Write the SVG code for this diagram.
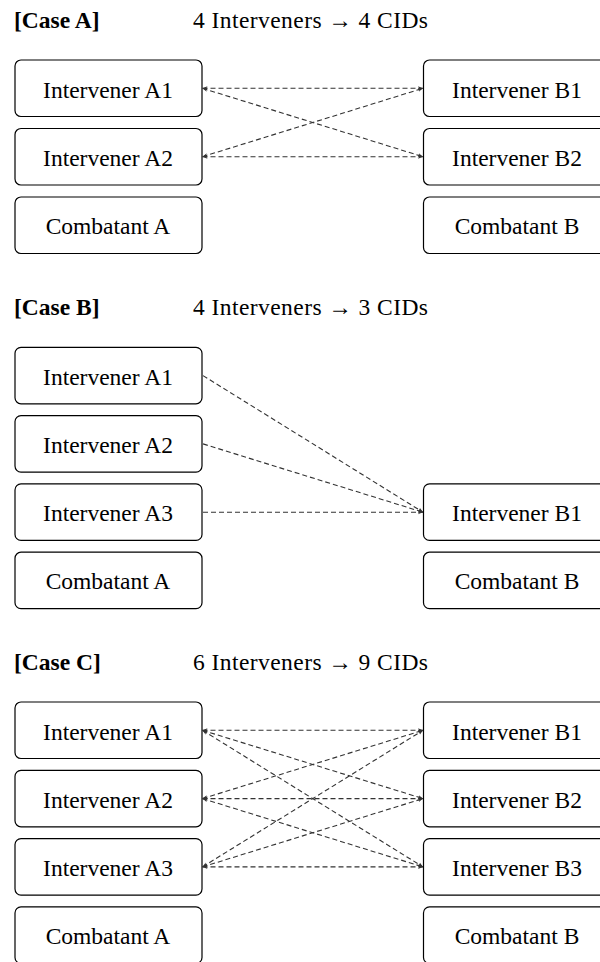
<svg xmlns="http://www.w3.org/2000/svg" width="600" height="962" viewBox="0 0 600 962" font-family="'Liberation Serif', 'DejaVu Serif', serif">
<defs>
<style>
text{font-family:'Liberation Serif','DejaVu Serif',serif}
.box{fill:#fff;stroke:#000;stroke-width:1.2}
.lbl{font-size:23.5px;fill:#000;text-anchor:middle}
.ttl{font-size:23.5px;fill:#000}
.b{font-weight:bold}
.con{fill:none;stroke:#333;stroke-width:1.1;stroke-dasharray:5,3}
</style>
<marker id="ah" viewBox="0 0 6 6" refX="6" refY="3" markerWidth="5" markerHeight="5" markerUnits="userSpaceOnUse" orient="auto-start-reverse">
<path d="M0,0.5 L6,3 L0,5.5 L1.5,3 Z" fill="#333"/>
</marker>
</defs>
<rect width="600" height="962" fill="#fff"/>

<!-- Case A -->
<g id="titleA">
<text class="ttl b" x="14" y="28">[Case A]</text>
<text class="ttl" x="193" y="28" textLength="235" lengthAdjust="spacing">4 Interveners → 4 CIDs</text>
</g>
<g id="A_A1"><rect class="box" x="15" y="60" width="187" height="56.5" rx="6"/><text class="lbl" x="108" y="97.5">Intervener A1</text></g>
<g id="A_A2"><rect class="box" x="15" y="128.5" width="187" height="56.5" rx="6"/><text class="lbl" x="108" y="166">Intervener A2</text></g>
<g id="A_CA"><rect class="box" x="15" y="197" width="187" height="56.5" rx="6"/><text class="lbl" x="108" y="234">Combatant A</text></g>
<g id="A_B1"><rect class="box" x="423.5" y="60" width="187" height="56.5" rx="6"/><text class="lbl" x="517" y="97.5">Intervener B1</text></g>
<g id="A_B2"><rect class="box" x="423.5" y="128.5" width="187" height="56.5" rx="6"/><text class="lbl" x="517" y="166">Intervener B2</text></g>
<g id="A_CB"><rect class="box" x="423.5" y="197" width="187" height="56.5" rx="6"/><text class="lbl" x="517" y="234">Combatant B</text></g>
<g id="A_connectors">
<path class="con" d="M202.5,88.3 L423,88.3" marker-start="url(#ah)" marker-end="url(#ah)"/>
<path class="con" d="M202.5,88.3 L423,156.7" marker-start="url(#ah)" marker-end="url(#ah)"/>
<path class="con" d="M202.5,156.7 L423,88.3" marker-start="url(#ah)" marker-end="url(#ah)"/>
<path class="con" d="M202.5,156.7 L423,156.7" marker-start="url(#ah)" marker-end="url(#ah)"/>
</g>

<!-- Case B -->
<g id="titleB">
<text class="ttl b" x="14" y="315">[Case B]</text>
<text class="ttl" x="193" y="315" textLength="235" lengthAdjust="spacing">4 Interveners → 3 CIDs</text>
</g>
<g id="B_A1"><rect class="box" x="15" y="347.3" width="187" height="56.5" rx="6"/><text class="lbl" x="108" y="384.8">Intervener A1</text></g>
<g id="B_A2"><rect class="box" x="15" y="415.6" width="187" height="56.5" rx="6"/><text class="lbl" x="108" y="453.1">Intervener A2</text></g>
<g id="B_A3"><rect class="box" x="15" y="483.9" width="187" height="56.5" rx="6"/><text class="lbl" x="108" y="521.4">Intervener A3</text></g>
<g id="B_CA"><rect class="box" x="15" y="552.2" width="187" height="56.5" rx="6"/><text class="lbl" x="108" y="589.2">Combatant A</text></g>
<g id="B_B1"><rect class="box" x="423.5" y="483.9" width="187" height="56.5" rx="6"/><text class="lbl" x="517" y="521.4">Intervener B1</text></g>
<g id="B_CB"><rect class="box" x="423.5" y="552.2" width="187" height="56.5" rx="6"/><text class="lbl" x="517" y="589.2">Combatant B</text></g>
<g id="B_connectors">
<path class="con" d="M203,375.6 L423,512.2" marker-end="url(#ah)"/>
<path class="con" d="M203,443.9 L423,512.2" marker-end="url(#ah)"/>
<path class="con" d="M203,512.2 L423,512.2" marker-end="url(#ah)"/>
</g>

<!-- Case C -->
<g id="titleC">
<text class="ttl b" x="14" y="669.5">[Case C]</text>
<text class="ttl" x="193" y="669.5" textLength="235" lengthAdjust="spacing">6 Interveners → 9 CIDs</text>
</g>
<g id="C_A1"><rect class="box" x="15" y="702" width="187" height="56.5" rx="6"/><text class="lbl" x="108" y="739.5">Intervener A1</text></g>
<g id="C_A2"><rect class="box" x="15" y="770.3" width="187" height="56.5" rx="6"/><text class="lbl" x="108" y="807.8">Intervener A2</text></g>
<g id="C_A3"><rect class="box" x="15" y="838.6" width="187" height="56.5" rx="6"/><text class="lbl" x="108" y="876.1">Intervener A3</text></g>
<g id="C_CA"><rect class="box" x="15" y="906.9" width="187" height="56.5" rx="6"/><text class="lbl" x="108" y="943.9">Combatant A</text></g>
<g id="C_B1"><rect class="box" x="423.5" y="702" width="187" height="56.5" rx="6"/><text class="lbl" x="517" y="739.5">Intervener B1</text></g>
<g id="C_B2"><rect class="box" x="423.5" y="770.3" width="187" height="56.5" rx="6"/><text class="lbl" x="517" y="807.8">Intervener B2</text></g>
<g id="C_B3"><rect class="box" x="423.5" y="838.6" width="187" height="56.5" rx="6"/><text class="lbl" x="517" y="876.1">Intervener B3</text></g>
<g id="C_CB"><rect class="box" x="423.5" y="906.9" width="187" height="56.5" rx="6"/><text class="lbl" x="517" y="943.9">Combatant B</text></g>
<g id="C_connectors">
<path class="con" d="M202.5,730.3 L423,730.3" marker-start="url(#ah)" marker-end="url(#ah)"/>
<path class="con" d="M202.5,730.3 L423,798.6" marker-start="url(#ah)" marker-end="url(#ah)"/>
<path class="con" d="M202.5,730.3 L423,866.9" marker-start="url(#ah)" marker-end="url(#ah)"/>
<path class="con" d="M202.5,798.6 L423,730.3" marker-start="url(#ah)" marker-end="url(#ah)"/>
<path class="con" d="M202.5,798.6 L423,798.6" marker-start="url(#ah)" marker-end="url(#ah)"/>
<path class="con" d="M202.5,798.6 L423,866.9" marker-start="url(#ah)" marker-end="url(#ah)"/>
<path class="con" d="M202.5,866.9 L423,730.3" marker-start="url(#ah)" marker-end="url(#ah)"/>
<path class="con" d="M202.5,866.9 L423,798.6" marker-start="url(#ah)" marker-end="url(#ah)"/>
<path class="con" d="M202.5,866.9 L423,866.9" marker-start="url(#ah)" marker-end="url(#ah)"/>
</g>
</svg>
